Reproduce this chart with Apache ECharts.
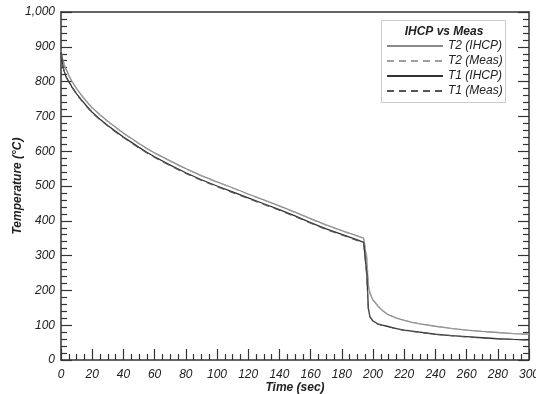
<!DOCTYPE html>
<html><head><meta charset="utf-8">
<script src="https://cdn.jsdelivr.net/npm/echarts@6/dist/echarts.min.js"></script>
<style>html,body{margin:0;padding:0;background:#fff}#c{width:536px;height:394px}</style>
</head><body><div id="c"></div>
<script>
const time = [0,1,2,3,5,7,10,13,16,20,25,30,35,40,45,50,55,60,70,80,90,100,110,120,130,140,150,160,170,180,190,194,195,196,197,198,200,203,206,209,210,215,220,225,230,240,250,260,270,280,290,300];
const t2Ihcp = [890,866,850,838,818,801,780,762,745,725,705,686,669,652,637,622,608,595,572,550,530,512,495,477,460,443,425,406,388,372,357,350,347,290,215,192,172,156,142,132,128,120,114,108,104,97,91,86,82,79,76,74];
const t2Meas = [888,864,849,837,817,800,779,761,744,724,704,685,668,651,636,621,607,594,571,549,529,511,494,476,459,442,424,405,387,371,356,349,346,300,220,195,174,157,143,133,129,121,114,109,104,97,91,86,82,79,76,74];
const t1Ihcp = [885,850,830,817,800,785,765,748,732,712,692,674,657,641,626,611,597,584,560,538,518,500,483,466,449,432,414,395,377,361,345,338,335,250,150,125,112,104,100,97,94,90,86,83,80,74,70,67,64,61,59,58];
const t1Meas = [883,848,828,815,798,783,763,746,730,710,690,672,655,639,624,609,595,582,558,536,516,498,481,464,447,430,412,393,375,359,343,336,333,240,145,123,111,103,99,96,93,89,85,82,79,74,70,66,63,61,59,57];
const xTicks = {min:0, max:300, interval:20};
const yTicks = {min:0, max:1000, interval:100};

const pairs = vals => time.map((t,i)=>[t, vals[i]]);
const font = '"Liberation Sans", Arial, sans-serif';
const chart = echarts.init(document.getElementById('c'), null, {renderer:'canvas'});
const axisLineStyle = {color:'#333', width:1.5};
const tickLine = {color:'#333', width:1.2};
const labelStyle = {fontStyle:'italic', fontSize:12, color:'#222', fontFamily:font};
chart.setOption({
  animation:false,
  backgroundColor:'#fff',
  grid:{left:61, right:7, top:12, bottom:34, outerBoundsMode:'none', containLabel:false},
  xAxis:[{
    type:'value', min:xTicks.min, max:xTicks.max, interval:xTicks.interval,
    name:'Time (sec)', nameLocation:'middle', nameGap:22, nameMoveOverlap:false,
    nameTextStyle:{fontStyle:'italic', fontWeight:'bold', fontSize:12, color:'#222', fontFamily:font},
    axisLine:{show:true, onZero:false, lineStyle:axisLineStyle},
    axisTick:{show:true, inside:true, length:11, lineStyle:tickLine},
    minorTick:{show:true, splitNumber:4, length:6, lineStyle:tickLine},
    axisLabel:Object.assign({margin:9}, labelStyle),
    splitLine:{show:false}, minorSplitLine:{show:false}
  },{
    type:'value', position:'top', min:xTicks.min, max:xTicks.max, interval:xTicks.interval,
    axisLine:{show:true, onZero:false, lineStyle:axisLineStyle},
    axisTick:{show:false}, axisLabel:{show:false}, splitLine:{show:false}
  }],
  yAxis:[{
    type:'value', min:yTicks.min, max:yTicks.max, interval:yTicks.interval,
    name:'Temperature (°C)', nameLocation:'middle', nameGap:37, nameMoveOverlap:false,
    nameTextStyle:{fontStyle:'italic', fontWeight:'bold', fontSize:12, color:'#222', fontFamily:font},
    axisLine:{show:true, onZero:false, lineStyle:axisLineStyle},
    axisTick:{show:true, inside:true, length:11, lineStyle:tickLine},
    minorTick:{show:true, splitNumber:5, length:6, lineStyle:tickLine},
    axisLabel:Object.assign({margin:6, formatter:v=>v.toLocaleString('en-US')}, labelStyle),
    splitLine:{show:false}
  },{
    type:'value', position:'right', min:yTicks.min, max:yTicks.max, interval:yTicks.interval,
    axisLine:{show:true, onZero:false, lineStyle:axisLineStyle},
    axisTick:{show:true, inside:true, length:11, lineStyle:tickLine},
    minorTick:{show:true, splitNumber:5, length:6, lineStyle:tickLine},
    axisLabel:{show:false}, splitLine:{show:false}
  }],
  legend:{
    orient:'vertical', left:381, top:35, itemWidth:56, itemHeight:12, itemGap:3,
    itemStyle:{opacity:0},
    textStyle:{fontStyle:'italic', fontSize:12, color:'#222', fontFamily:font},
    data:['T2 (IHCP)','T2 (Meas)','T1 (IHCP)','T1 (Meas)']
  },
  graphic:[
    {type:'rect', shape:{x:381.5, y:20.5, width:124, height:82}, style:{fill:'#fff', stroke:'#ccc', lineWidth:1}, z:-1},
    {type:'text', x:444, y:26, style:{text:'IHCP vs Meas', font:'italic bold 12px '+font, fill:'#222', textAlign:'center'}}
  ],
  series:[
    {name:'T2 (IHCP)', type:'line', data:pairs(t2Ihcp), symbol:'none', lineStyle:{color:'#8a8a8a', width:1.3}, itemStyle:{color:'#8a8a8a'}},
    {name:'T2 (Meas)', type:'line', data:pairs(t2Meas), symbol:'none', lineStyle:{color:'#a0a0a0', width:1.1, type:[7,5]}, itemStyle:{color:'#a0a0a0'}},
    {name:'T1 (IHCP)', type:'line', data:pairs(t1Ihcp), symbol:'none', lineStyle:{color:'#333', width:1.3}, itemStyle:{color:'#333'}},
    {name:'T1 (Meas)', type:'line', data:pairs(t1Meas), symbol:'none', lineStyle:{color:'#555', width:1.1, type:[7,5]}, itemStyle:{color:'#555'}}
  ]
});
</script></body></html>
